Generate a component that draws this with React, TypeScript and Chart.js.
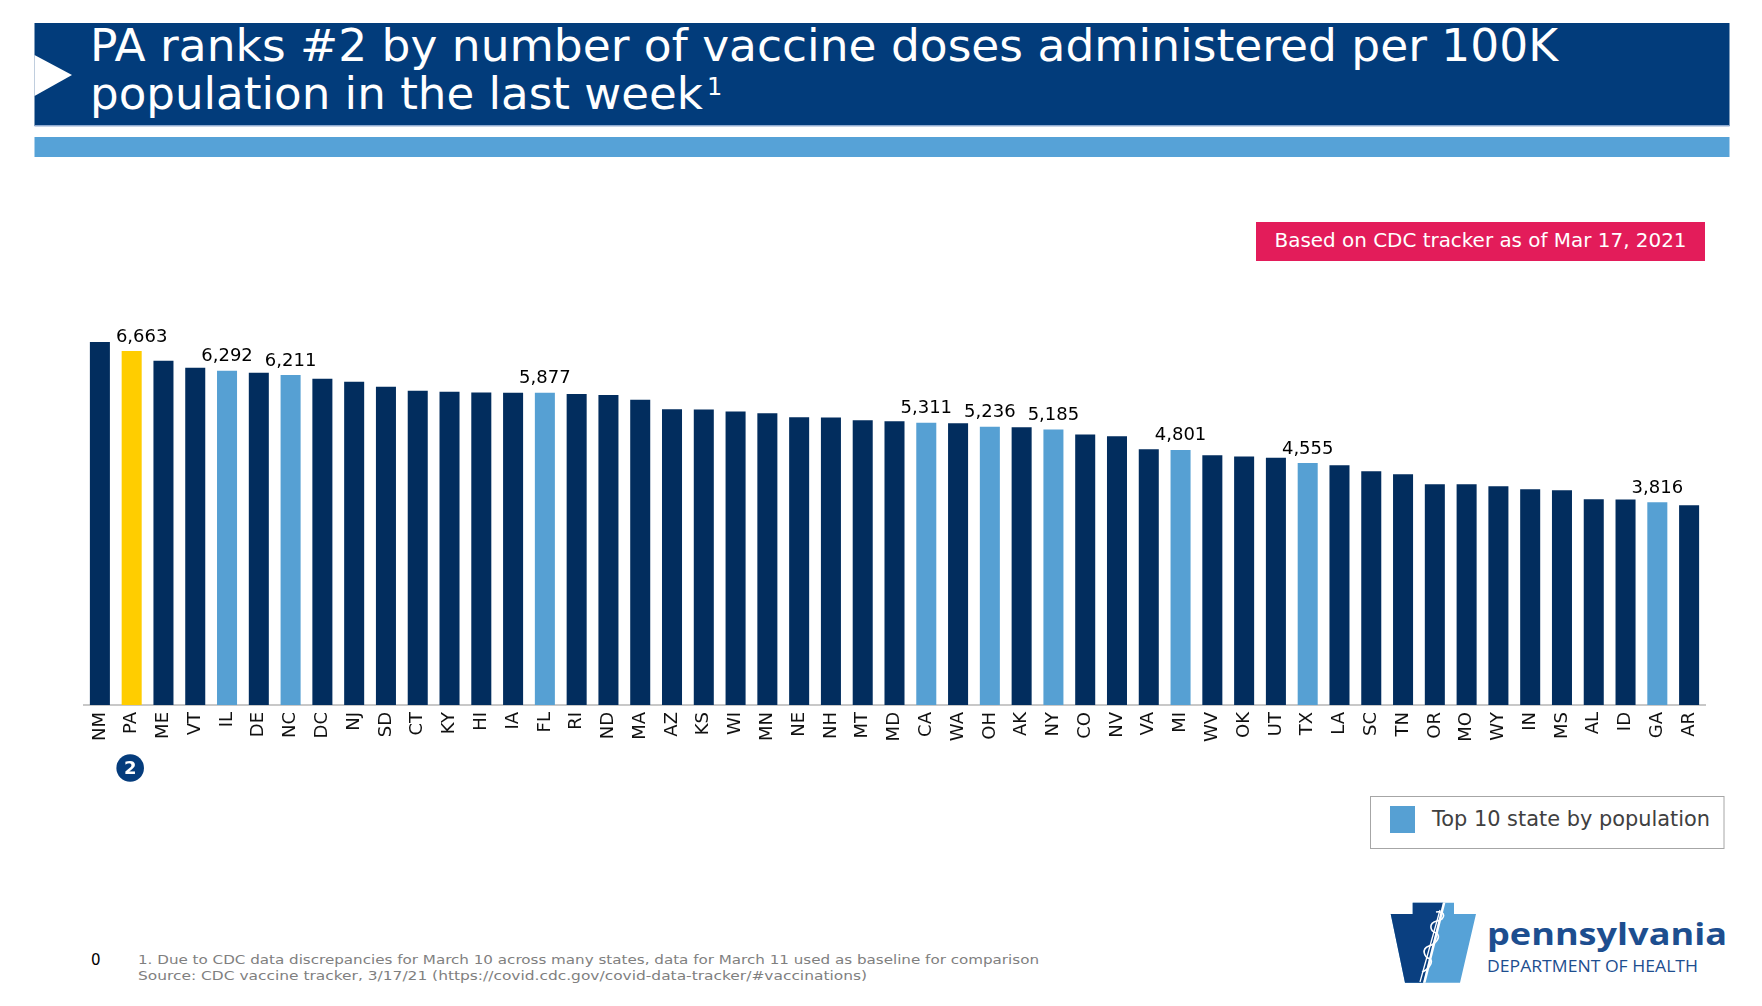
import React, { useEffect, useRef } from "react";
import { Chart, registerables } from "chart.js";

Chart.register(...registerables);

// ---- Data ----
const states = [
  "NM", "PA", "ME", "VT", "IL", "DE", "NC", "DC", "NJ", "SD", "CT", "KY", "HI",
  "IA", "FL", "RI", "ND", "MA", "AZ", "KS", "WI", "MN", "NE", "NH", "MT", "MD",
  "CA", "WA", "OH", "AK", "NY", "CO", "NV", "VA", "MI", "WV", "OK", "UT", "TX",
  "LA", "SC", "TN", "OR", "MO", "WY", "IN", "MS", "AL", "ID", "GA", "AR",
];
const dosesPer100K = [
  6832, 6663, 6480, 6348, 6292, 6254, 6211, 6141, 6085, 5991, 5915, 5896, 5882,
  5880, 5877, 5853, 5834, 5746, 5565, 5563, 5527, 5490, 5415, 5413, 5358, 5339,
  5311, 5302, 5236, 5226, 5185, 5094, 5057, 4812, 4801, 4699, 4680, 4655, 4555,
  4511, 4398, 4342, 4155, 4153, 4116, 4059, 4041, 3872, 3870, 3816, 3758,
];
const topTenStates = ["IL", "NC", "FL", "CA", "OH", "NY", "MI", "TX", "GA"];
const focusState = "PA";
const labeledStates = [focusState, ...topTenStates];
const yTicksMax = 8000;

const NAVY = "#022D5E";
const LIGHT = "#56A0D3";
const YELLOW = "#FFCD00";
const FONT = "'DejaVu Sans', Verdana, sans-serif";

const barColors = states.map((s) =>
  s === focusState ? YELLOW : topTenStates.includes(s) ? LIGHT : NAVY
);

const annotatePlugin = {
  id: "annotate",
  afterDatasetsDraw(chart: any) {
    const ctx = chart.ctx;
    const meta = chart.getDatasetMeta(0);
    ctx.save();
    ctx.font = `18px ${FONT}`;
    ctx.fillStyle = "#000000";
    ctx.textAlign = "center";
    ctx.textBaseline = "alphabetic";
    meta.data.forEach((bar: any, i: number) => {
      if (!labeledStates.includes(states[i])) return;
      const dx = states[i] === focusState ? 10 : 0;
      ctx.fillText(dosesPer100K[i].toLocaleString("en-US"), bar.x + dx, bar.y - 9.5);
    });
    // rank badge under the focus state
    const idx = states.indexOf(focusState);
    const b: any = meta.data[idx];
    if (b) {
      const cx = b.x - 1.5;
      const cy = 768;
      ctx.beginPath();
      ctx.arc(cx, cy, 13.8, 0, Math.PI * 2);
      ctx.fillStyle = "#053C7C";
      ctx.fill();
      ctx.fillStyle = "#FFFFFF";
      ctx.font = `bold 18px ${FONT}`;
      ctx.textAlign = "center";
      ctx.textBaseline = "middle";
      ctx.fillText(String(idx + 1), cx, cy + 1);
    }
    ctx.restore();
  },
};

function BarChart() {
  const ref = useRef<HTMLCanvasElement | null>(null);
  useEffect(() => {
    if (!ref.current) return;
    const chart = new Chart(ref.current, {
      type: "bar",
      data: {
        labels: states,
        datasets: [
          {
            data: dosesPer100K,
            backgroundColor: barColors,
            borderWidth: 0,
            barPercentage: 0.63,
            categoryPercentage: 1,
          },
        ],
      },
      options: {
        responsive: false,
        animation: false,
        devicePixelRatio: 1,
        layout: { padding: { left: 84, right: 57, top: 280, bottom: 0 } },
        plugins: { legend: { display: false }, tooltip: { enabled: false } },
        scales: {
          x: {
            offset: true,
            grid: { display: false, drawTicks: false },
            border: { display: true, color: "#C8C8C8", width: 2 },
            ticks: {
              minRotation: 90,
              maxRotation: 90,
              autoSkip: false,
              padding: 7,
              color: "#111111",
              font: { family: FONT, size: 18 },
            },
            afterFit: (scale: any) => {
              scale.height = 301;
            },
          },
          y: { display: false, min: 0, max: yTicksMax },
        },
      },
      plugins: [annotatePlugin],
    } as any);
    return () => chart.destroy();
  }, []);
  return (
    <canvas
      ref={ref}
      width={1762}
      height={1006}
      style={{ position: "absolute", left: 0, top: 0, width: 1762, height: 1006 }}
    />
  );
}

export default function App() {
  return (
    <div style={{ position: "absolute", left: 0, top: 0, width: 1762, height: 1006, background: "#fff", overflow: "hidden" }}>
      <svg
        width={1762}
        height={1006}
        style={{ position: "absolute", left: 0, top: 0 }}
        fontFamily={FONT}
      >
        {/* title banner */}
        <rect x={34.5} y={23} width={1695} height={103} fill="#023C7B" />
        <rect x={34.5} y={125} width={1695} height={1.5} fill="#8FAAD0" />
        <polygon points="34.5,55 72,75 34.5,96" fill="#FFFFFF" />
        <rect x={34.5} y={137} width={1695} height={20} fill="#56A2D7" />
        <text x={90} y={61} fontSize={44} fill="#FFFFFF" textLength={1468} lengthAdjust="spacingAndGlyphs">
          PA ranks #2 by number of vaccine doses administered per 100K
        </text>
        <text x={90} y={109} fontSize={44} fill="#FFFFFF" textLength={613} lengthAdjust="spacingAndGlyphs">
          population in the last week
        </text>
        <text x={707} y={95} fontSize={24} fill="#FFFFFF">1</text>

        {/* date box */}
        <rect x={1256} y={222} width={449} height={39} fill="#E31C5A" />
        <text x={1480.5} y={246.5} fontSize={20} fill="#FFFFFF" textAnchor="middle" textLength={412} lengthAdjust="spacingAndGlyphs">
          Based on CDC tracker as of Mar 17, 2021
        </text>

        {/* legend */}
        <rect x={1370.5} y={796.5} width={353.5} height={52} fill="#FFFFFF" stroke="#A6A6A6" strokeWidth={1} />
        <rect x={1390} y={806} width={25} height={27} fill={LIGHT} />
        <text x={1432} y={826} fontSize={20.5} fill="#404040" textLength={278} lengthAdjust="spacingAndGlyphs">
          Top 10 state by population
        </text>

        {/* footnotes */}
        <text x={91} y={965} fontSize={15} fill="#000000">0</text>
        <text x={138} y={964} fontSize={13} fill="#7F7F7F" textLength={901} lengthAdjust="spacingAndGlyphs">
          1. Due to CDC data discrepancies for March 10 across many states, data for March 11 used as baseline for comparison
        </text>
        <text x={138} y={980} fontSize={13} fill="#7F7F7F" textLength={729} lengthAdjust="spacingAndGlyphs">
          Source: CDC vaccine tracker, 3/17/21 (https://covid.cdc.gov/covid-data-tracker/#vaccinations)
        </text>

        {/* logo */}
        <defs>
          <clipPath id="keystone">
            <polygon points="1412.7,902.7 1454,902.7 1454,914 1476,914 1460,982.7 1405,982.7 1390.7,914 1412.7,914" />
          </clipPath>
        </defs>
        <g clipPath="url(#keystone)">
          <rect x={1385} y={898} width={95} height={90} fill="#56A2D7" />
          <polygon points="1380,895 1445,895 1421.5,990 1380,990" fill="#0A3F80" />
          <line x1={1446} y1={895} x2={1422.5} y2={990} stroke="#FFFFFF" strokeWidth={2.5} />
          <path
            d="M1436,912 C1446,910 1446,920 1437,921 C1428,923 1430,931 1436,933 C1442,936 1436,944 1429,946 C1421,949 1424,957 1430,959 C1434,962 1428,970 1422,972"
            fill="none"
            stroke="#FFFFFF"
            strokeWidth={1.6}
          />
          <line x1={1440} y1={910} x2={1420} y2={982} stroke="#FFFFFF" strokeWidth={1.3} />
        </g>
        <text x={1487} y={945} fontFamily="'Open Sans', sans-serif" fontWeight={700} fontSize={30} fill="#1D4E8F" textLength={240} lengthAdjust="spacingAndGlyphs">
          pennsylvania
        </text>
        <text x={1487} y={972} fontFamily="'Open Sans', sans-serif" fontSize={15.5} fill="#1D4E8F" textLength={211} lengthAdjust="spacingAndGlyphs">
          DEPARTMENT OF HEALTH
        </text>
      </svg>
      <BarChart />
    </div>
  );
}
